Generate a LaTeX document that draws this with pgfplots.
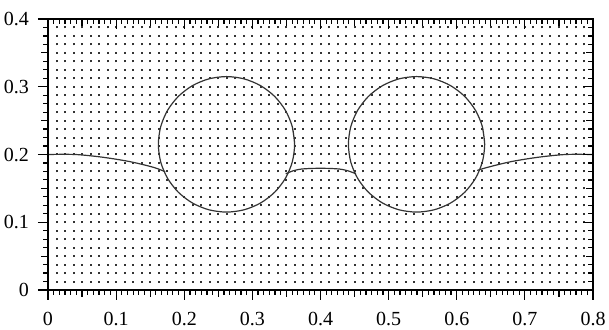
\documentclass[border=0pt]{standalone}
\usepackage{fontspec}
\setmainfont{Liberation Serif}
\usepackage{pgfplots}
\pgfplotsset{compat=1.18}
\begin{document}
\begin{tikzpicture}
\useasboundingbox (-24pt,-20pt) rectangle (280.5pt,145pt);
\pgfplotsset{
  common/.style={
    width=272.5pt, height=135.5pt, scale only axis,
    at={(0,0)}, anchor=south west,
    clip=false,
  },
  tickset/.style={
    xmin=0, xmax=0.8, ymin=0, ymax=0.4,
    axis line style={line width=1.2pt},
    xtick={0,0.1,0.2,0.3,0.4,0.5,0.6,0.7,0.8},
    ytick={0,0.1,0.2,0.3,0.4},
    minor x tick num=11, minor y tick num=7,
    major tick length=5pt, minor tick length=2.3pt,
    tick style={black, line width=0.6pt},
    extra x ticks={0.05,0.15,0.25,0.35,0.45,0.55,0.65,0.75},
    extra y ticks={0.05,0.15,0.25,0.35},
    extra x tick labels={}, extra y tick labels={},
    extra tick style={major tick length=3.3pt},
  }
}
% field of dots
\begin{axis}[common,
  xmin=0, xmax=64, ymin=0, ymax=32,
  axis line style={draw=none},
  xtick={1,...,63}, ytick=\empty,
  xticklabels={}, tick style={draw=none},
  xmajorgrids=true,
  major x grid style={black!80, line width=1pt, line cap=butt,
    dash pattern=on 1pt off 3.234375pt, dash phase=0.5pt},
]
\end{axis}
% main data axis
\begin{axis}[common, tickset,
  xtick pos=left, ytick pos=left, tick align=outside,
  xticklabels={0,0.1,0.2,0.3,0.4,0.5,0.6,0.7,0.8},
  yticklabels={0,0.1,0.2,0.3,0.4},
  tick label style={font=\fontsize{10}{11}\selectfont},
  xticklabel style={yshift=-2.5pt},
  yticklabel style={xshift=-1pt},
]
% left circle
\addplot[black!80, line width=0.6pt, smooth] coordinates {
(0.362,0.215) (0.3586,0.2409) (0.3486,0.265) (0.3327,0.2857) (0.312,0.3016)
(0.2879,0.3116) (0.262,0.315) (0.2361,0.3116) (0.212,0.3016) (0.1913,0.2857)
(0.1754,0.265) (0.1654,0.2409) (0.162,0.215) (0.1654,0.1891) (0.1754,0.165)
(0.1913,0.1443) (0.212,0.1284) (0.2361,0.1184) (0.262,0.115) (0.2879,0.1184)
(0.312,0.1284) (0.3327,0.1443) (0.3486,0.165) (0.3586,0.1891) (0.362,0.215)
(0.3586,0.2409)
};
% right circle
\addplot[black!80, line width=0.6pt, smooth] coordinates {
(0.641,0.215) (0.6376,0.2409) (0.6276,0.265) (0.6117,0.2857) (0.591,0.3016)
(0.5669,0.3116) (0.541,0.315) (0.5151,0.3116) (0.491,0.3016) (0.4703,0.2857)
(0.4544,0.265) (0.4444,0.2409) (0.441,0.215) (0.4444,0.1891) (0.4544,0.165)
(0.4703,0.1443) (0.491,0.1284) (0.5151,0.1184) (0.541,0.115) (0.5669,0.1184)
(0.591,0.1284) (0.6117,0.1443) (0.6276,0.165) (0.6376,0.1891) (0.641,0.215)
(0.6376,0.2409)
};
% interface curve: left part
\addplot[black!80, line width=0.6pt, smooth] coordinates {
(0,0.2) (0.04,0.2) (0.08,0.196) (0.12,0.1895) (0.155,0.181) (0.172,0.1745)
};
% middle part
\addplot[black!80, line width=0.6pt, smooth] coordinates {
(0.349,0.1715) (0.36,0.176) (0.372,0.1785) (0.39,0.1795) (0.41,0.1795)
(0.428,0.1785) (0.44,0.176) (0.452,0.1715)
};
% right part
\addplot[black!80, line width=0.6pt, smooth] coordinates {
(0.63,0.1765) (0.645,0.181) (0.68,0.1895) (0.72,0.196) (0.76,0.2) (0.8,0.2)
};
\end{axis}
% top and right ticks, pointing inward
\begin{axis}[common, tickset,
  xtick pos=right, ytick pos=right, tick align=inside,
  xticklabels={}, yticklabels={},
]
\end{axis}
\end{tikzpicture}
\end{document}
